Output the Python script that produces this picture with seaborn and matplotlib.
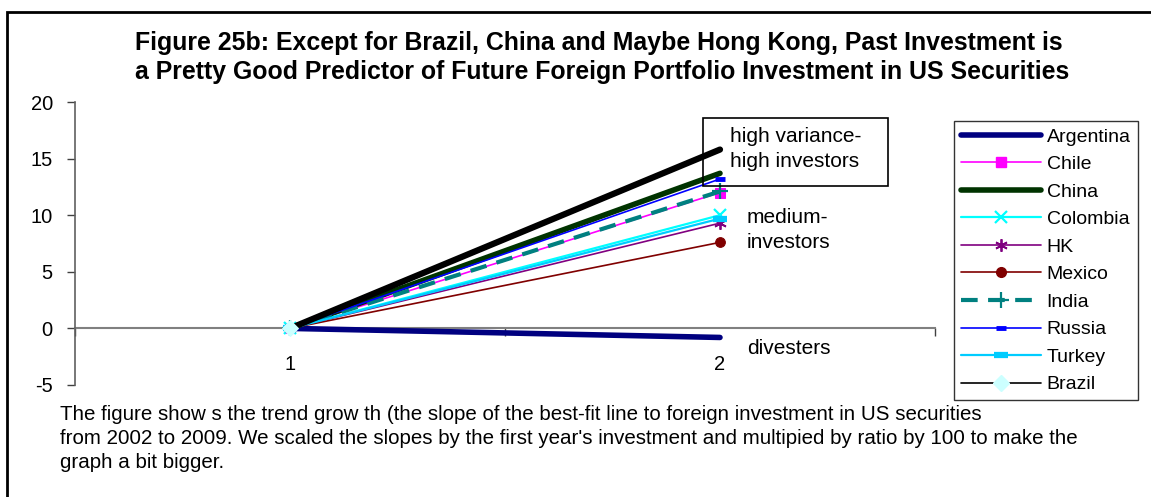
import matplotlib
matplotlib.use("Agg")
import matplotlib.pyplot as plt
from matplotlib.lines import Line2D
from matplotlib.patches import Rectangle
import seaborn as sns
import pandas as pd

# ---------------- data ----------------
periods = [1, 2]
period_labels = ["1", "2"]
countries = ["Argentina", "Chile", "China", "Colombia", "HK", "Mexico",
             "India", "Russia", "Turkey", "Brazil"]
value_p1 = [0, 0, 0, 0, 0, 0, 0, 0, 0, 0]
value_p2 = [-0.8, 12.0, 13.7, 10.0, 9.3, 7.6, 12.1, 13.2, 9.7, 15.8]
y_ticks = [-5, 0, 5, 10, 15, 20]

title_lines = ["Figure 25b: Except for Brazil, China and Maybe Hong Kong, Past Investment is",
               "a Pretty Good Predictor of Future Foreign Portfolio Investment in US Securities"]
note_lines = ["The figure show s the trend grow th (the slope of the best-fit line to foreign investment in US securities",
              "from 2002 to 2009. We scaled the slopes by the first year's investment and multipied by ratio by 100 to make the",
              "graph a bit bigger."]
ann_high = "high variance-\nhigh investors"
ann_medium = "medium-\ninvestors"
ann_div = "divesters"

rows = []
for c, a, b in zip(countries, value_p1, value_p2):
    rows.append({"country": c, "period": periods[0], "value": a})
    rows.append({"country": c, "period": periods[1], "value": b})
df = pd.DataFrame(rows)

# ---------------- styles ----------------
styles = {
    "Argentina": dict(color="#000080", lw=4.0, marker=None),
    "Chile": dict(color="#FF00FF", lw=1.2, marker="s", ms=7, mec="#FF00FF", mfc="#FF00FF"),
    "China": dict(color="#003300", lw=4.0, marker=None),
    "Colombia": dict(color="#00FFFF", lw=1.6, marker="x", ms=9, mew=1.6, mec="#00FFFF"),
    "HK": dict(color="#800080", lw=1.2, marker=(6, 2, 0), ms=9, mew=1.3, mec="#800080"),
    "Mexico": dict(color="#800000", lw=1.2, marker="o", ms=7, mec="#800000", mfc="#800000"),
    "India": dict(color="#008080", lw=3.0, marker="+", ms=12, mew=1.6, mec="#008080", ls=(0, (4, 2.5))),
    "Russia": dict(color="#0000FF", lw=1.2, marker="_", ms=7, mew=3.5, mec="#0000FF"),
    "Turkey": dict(color="#00CCFF", lw=1.6, marker="_", ms=10, mew=4.5, mec="#00CCFF"),
    "Brazil": dict(color="#000000", lw=4.5, marker="D", ms=8, mec="#CCFFFF", mfc="#CCFFFF", markevery=[0]),
}

sns.set_theme(style="white")
plt.rcParams["font.family"] = ["Liberation Sans", "DejaVu Sans"]
plt.rcParams["text.color"] = "black"
plt.rcParams["xtick.color"] = "black"
plt.rcParams["ytick.color"] = "black"

W, H = 1151, 497
fig = plt.figure(figsize=(W / 100, H / 100), dpi=100)


def fx(px):
    return px / W


def fy(py):
    return 1 - py / H


ax = fig.add_axes([fx(75), fy(385), fx(935) - fx(75), fy(102) - fy(385)])
ax.set_facecolor("white")

for c in countries:
    st = dict(styles[c])
    sub = df[df["country"] == c]
    kw = dict(color=st.pop("color"), linewidth=st.pop("lw"))
    m = st.pop("marker")
    if m is not None:
        kw["marker"] = m
    if "ms" in st:
        kw["markersize"] = st.pop("ms")
    if "mew" in st:
        kw["markeredgewidth"] = st.pop("mew")
    if "mec" in st:
        kw["markeredgecolor"] = st.pop("mec")
    if "mfc" in st:
        kw["markerfacecolor"] = st.pop("mfc")
    if "ls" in st:
        kw["linestyle"] = st.pop("ls")
    if "markevery" in st:
        kw["markevery"] = st.pop("markevery")
    sns.lineplot(data=sub, x="period", y="value", ax=ax, legend=False,
                 errorbar=None, clip_on=False, zorder=3, **kw)

ax.set_xlim(0.5, 2.5)
ax.set_ylim(-5, 20)
ax.set_yticks(y_ticks)
ax.set_yticklabels([str(v) for v in y_ticks])
ax.set_xticks(periods)
ax.set_xticklabels(period_labels)
ax.set_xticks([0.5, 1.5, 2.5], minor=True)
ax.set_xlabel("")
ax.set_ylabel("")
ax.grid(False)

for s in ["top", "right"]:
    ax.spines[s].set_visible(False)
ax.spines["bottom"].set_position(("data", 0))
ax.spines["bottom"].set_color("#808080")
ax.spines["bottom"].set_linewidth(1.5)
ax.spines["bottom"].set_zorder(1)
ax.spines["left"].set_color("#606060")
ax.spines["left"].set_linewidth(1.2)
ax.tick_params(axis="y", which="major", direction="out", length=6, width=1,
               color="#404040", pad=10, left=True, labelcolor="black", labelsize=14.5)
ax.tick_params(axis="x", which="major", length=0, pad=19, labelcolor="black",
               labelsize=14.5)
ax.tick_params(axis="x", which="minor", direction="out", length=5.5, width=1,
               color="#404040", bottom=True)

# legend
handles = []
for c in countries:
    st = styles[c]
    lw = st["lw"]
    if c == "Brazil":
        lw = 1.2
    handles.append(Line2D([0], [0], color=st["color"], linewidth=lw,
                          linestyle=st.get("ls", "-"),
                          marker=st["marker"] if st["marker"] is not None else "None",
                          markersize=st.get("ms", 6), markeredgewidth=st.get("mew", 1),
                          markeredgecolor=st.get("mec", st["color"]),
                          markerfacecolor=st.get("mfc", st["color"])))
leg = fig.legend(handles, countries, loc="upper left",
                 bbox_to_anchor=(fx(954), fy(121)), bbox_transform=fig.transFigure,
                 fontsize=14, frameon=True, fancybox=False, shadow=False,
                 handlelength=4.1, handletextpad=0.3, labelspacing=0.51,
                 borderpad=0.36, borderaxespad=0, numpoints=1)
leg.get_frame().set_edgecolor("black")
leg.get_frame().set_linewidth(1.0)

# annotations
fig.text(fx(730), fy(149), ann_high, fontsize=15, ha="left", va="center",
         linespacing=1.4)
fig.add_artist(Rectangle((fx(703), fy(186)), fx(888) - fx(703), fy(118) - fy(186),
                         transform=fig.transFigure, fill=False, edgecolor="black",
                         linewidth=1.2, zorder=5))
fig.text(fx(747), fy(230), ann_medium, fontsize=15, ha="left", va="center",
         linespacing=1.45)
fig.text(fx(747), fy(348), ann_div, fontsize=15, ha="left", va="center")

# title
fig.text(fx(599), fy(43), title_lines[0], fontsize=17.9, fontweight="bold",
         ha="center", va="center")
fig.text(fx(602), fy(72), title_lines[1], fontsize=17.9, fontweight="bold",
         ha="center", va="center")

# footnote
for i, line in enumerate(note_lines):
    fig.text(fx(60), fy(414 + 24 * i), line, fontsize=14.8, ha="left", va="center",
             zorder=6)

# outer frame
fig.add_artist(Rectangle((fx(7), fy(540)), 2, fy(12) - fy(540),
                         transform=fig.transFigure, fill=False, edgecolor="black",
                         linewidth=2, zorder=10, clip_on=False))

fig.savefig("out.png", dpi=100, facecolor="white")
